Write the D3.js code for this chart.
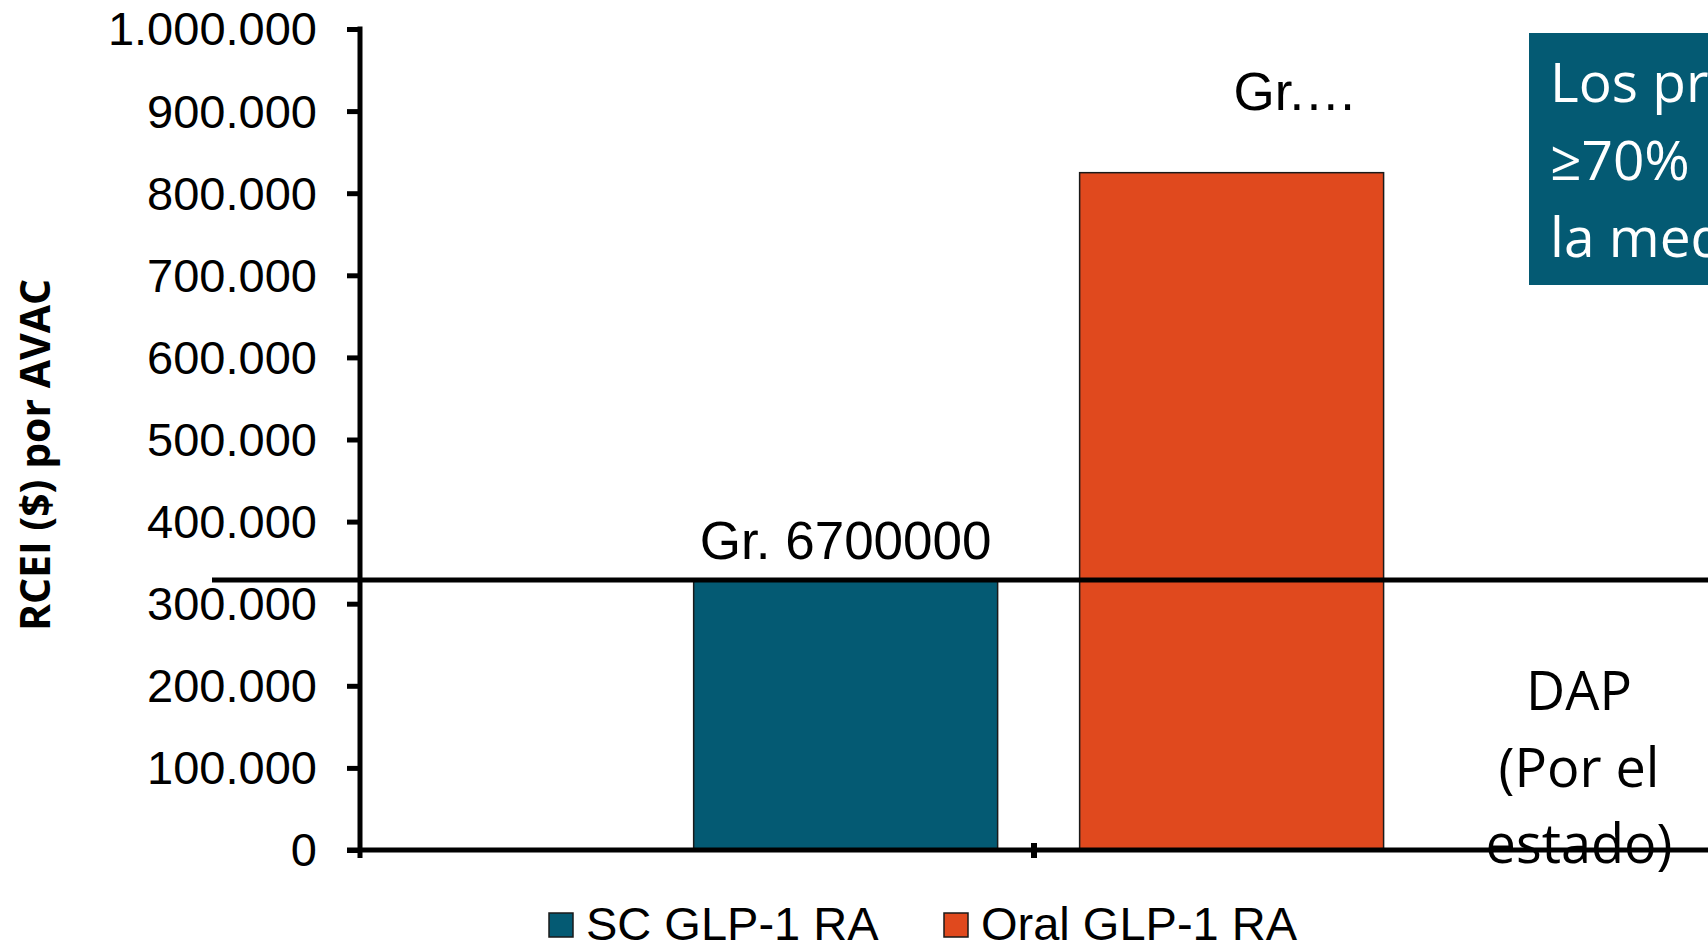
<!DOCTYPE html>
<html lang="es">
<head>
<meta charset="utf-8">
<title>RCEI por AVAC</title>
<script src="https://cdn.jsdelivr.net/npm/d3@7/dist/d3.min.js"></script>
<style>
  html, body { margin: 0; padding: 0; background: #ffffff; overflow: hidden; }
  svg { display: block; }
</style>
</head>
<body>
<svg id="chart" width="1708" height="944"></svg>
<script>
// ---- data ----
const categories = ["Grupo A", "Grupo B"];
const seriesSlots = ["Oral GLP-1 RA", "SC GLP-1 RA"];   // order of the slots inside each category
const legendSeries = ["SC GLP-1 RA", "Oral GLP-1 RA"];
const scValues = [328000, null];
const oralValues = [null, 825000];
const barLabels = { "SC GLP-1 RA": "Gr. 6700000", "Oral GLP-1 RA": "Gr.…" };
const thresholdValue = [329000];
const yTicks = [0, 100000, 200000, 300000, 400000, 500000, 600000, 700000, 800000, 900000, 1000000];
const yTitle = "RCEI ($) por AVAC";
const noteLines = ["Los precios", "≥70%", "la medicación"];
const wtpLines = ["DAP", "(Por el", "estado)"];

const colors = { "SC GLP-1 RA": "#045a73", "Oral GLP-1 RA": "#e0491e" };

// ---- layout ----
const svg = d3.select("#chart");
const plot = { left: 360, right: 1708, top: 29, bottom: 850 };

const x0 = d3.scaleBand().domain(categories).range([plot.left, plot.right]).padding(0);
const x1 = d3.scalePoint().domain(seriesSlots).range([0, x0.bandwidth()]).padding(0.67).align(0.512);
const barW = x0.bandwidth() * 0.451;
const y = d3.scaleLinear().domain([0, 1000000]).range([plot.bottom, plot.top]);

const esLocale = d3.formatLocale({ decimal: ",", thousands: ".", grouping: [3], currency: ["$", ""] });
const fmt = esLocale.format(",");

const bars = [];
categories.forEach((c, i) => {
  if (scValues[i] != null) bars.push({ cat: c, series: "SC GLP-1 RA", value: scValues[i] });
  if (oralValues[i] != null) bars.push({ cat: c, series: "Oral GLP-1 RA", value: oralValues[i] });
});

// bars
svg.append("g").selectAll("rect").data(bars).join("rect")
  .attr("x", d => x0(d.cat) + x1(d.series) - barW / 2)
  .attr("y", d => y(d.value))
  .attr("width", barW)
  .attr("height", d => y(0) - y(d.value))
  .attr("fill", d => colors[d.series])
  .attr("stroke", "#1a1a1a")
  .attr("stroke-width", 1.5);

// bar labels
svg.append("g").selectAll("text").data(bars).join("text")
  .attr("x", d => d.series === "SC GLP-1 RA"
      ? x0(d.cat) + x1(d.series)
      : x0(d.cat) + x1(d.series) + 2)
  .attr("y", d => d.series === "SC GLP-1 RA" ? y(d.value) - 22 : y(d.value) - 63)
  .attr("text-anchor", d => d.series === "SC GLP-1 RA" ? "middle" : "start")
  .attr("font-family", "'Liberation Sans', Arial, sans-serif")
  .attr("font-size", 53)
  .attr("fill", "#000")
  .text(d => barLabels[d.series]);

// y axis
const yAxis = d3.axisLeft(y).tickValues(yTicks).tickFormat(fmt).tickSize(13).tickPadding(30);
const gy = svg.append("g").attr("transform", `translate(${plot.left},0)`).call(yAxis);
gy.select(".domain").remove();
gy.selectAll(".tick line").attr("stroke", "#000").attr("stroke-width", 5);
gy.selectAll(".tick text")
  .attr("font-family", "'Liberation Sans', Arial, sans-serif")
  .attr("font-size", 47)
  .attr("fill", "#000")
  .attr("dy", "0.34em");
svg.append("line")
  .attr("x1", plot.left).attr("x2", plot.left)
  .attr("y1", y(1000000) - 2.5).attr("y2", y(0) + 8)
  .attr("stroke", "#000").attr("stroke-width", 5);

// x axis
svg.append("line")
  .attr("x1", plot.left - 13).attr("x2", plot.right)
  .attr("y1", y(0)).attr("y2", y(0))
  .attr("stroke", "#000").attr("stroke-width", 5);
svg.append("g").selectAll("line").data(categories.slice(1)).join("line")
  .attr("x1", d => x0(d)).attr("x2", d => x0(d))
  .attr("y1", y(0) - 7).attr("y2", y(0) + 8)
  .attr("stroke", "#000").attr("stroke-width", 6);

// threshold line
svg.append("g").selectAll("line").data(thresholdValue).join("line")
  .attr("x1", 212).attr("x2", plot.right)
  .attr("y1", d => y(d)).attr("y2", d => y(d))
  .attr("stroke", "#000").attr("stroke-width", 5);

// y title
svg.append("text")
  .attr("transform", `translate(50,455) rotate(-90)`)
  .attr("text-anchor", "middle")
  .attr("font-family", "'Open Sans', sans-serif")
  .attr("font-weight", "bold")
  .attr("font-size", 41)
  .attr("fill", "#000")
  .text(yTitle);

// note box
svg.append("rect")
  .attr("x", 1529).attr("y", 33).attr("width", 260).attr("height", 252)
  .attr("fill", "#045a73");
svg.append("g").selectAll("text").data(noteLines).join("text")
  .attr("x", 1550)
  .attr("y", (d, i) => 102 + i * 77.5)
  .attr("font-family", "'Open Sans', sans-serif")
  .attr("font-size", 55)
  .attr("fill", "#ffffff")
  .text(d => d);

// willingness-to-pay label
svg.append("g").selectAll("text").data(wtpLines).join("text")
  .attr("x", 1579)
  .attr("y", (d, i) => 710 + i * 76.5)
  .attr("text-anchor", "middle")
  .attr("font-family", "'Open Sans', sans-serif")
  .attr("font-size", 54)
  .attr("fill", "#000")
  .text(d => d);

// legend
const legendX = [549, 944];
const lg = svg.append("g").selectAll("g").data(legendSeries).join("g")
  .attr("transform", (d, i) => `translate(${legendX[i]},913)`);
lg.append("rect")
  .attr("width", 24).attr("height", 24)
  .attr("fill", d => colors[d])
  .attr("stroke", "#1a1a1a").attr("stroke-width", 1.5);
lg.append("text")
  .attr("x", 37).attr("y", 27)
  .attr("font-family", "'Liberation Sans', Arial, sans-serif")
  .attr("font-size", 47)
  .attr("fill", "#000")
  .text(d => d);
</script>
</body>
</html>
